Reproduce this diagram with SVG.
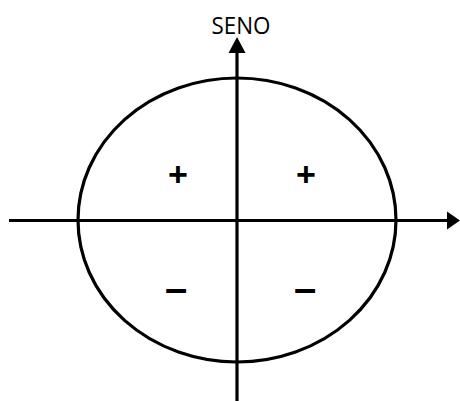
<svg xmlns="http://www.w3.org/2000/svg" width="460" height="401" viewBox="0 0 460 401">
<style>
.ln{stroke:#000;stroke-width:3.2;fill:none}
.sg{font-family:"Liberation Sans",Arial,sans-serif;font-weight:bold;text-anchor:middle;fill:#000}
</style>
<rect width="460" height="401" fill="#fff"/>
<g id="circle"><ellipse class="ln" cx="237" cy="220" rx="159" ry="142"/></g>
<g id="connectors">
<line class="ln" x1="9" y1="220.5" x2="450" y2="220.5"/>
<polygon points="447,211.5 460,220.5 447,229.5" fill="#000"/>
<line class="ln" x1="237" y1="50" x2="237" y2="401"/>
<polygon points="228.5,53 237,37 245.5,53" fill="#000"/>
</g>
<g id="label"><text x="241" y="34" font-family="'Open Sans','Liberation Sans',sans-serif" font-size="24" text-anchor="middle" textLength="59" lengthAdjust="spacingAndGlyphs">SENO</text></g>
<g id="q1"><text class="sg" x="306" y="186" font-size="34">+</text></g>
<g id="q2"><text class="sg" x="178" y="186" font-size="34">+</text></g>
<g id="q3"><text class="sg" x="176" y="302" font-size="40">–</text></g>
<g id="q4"><text class="sg" x="305" y="302" font-size="40">–</text></g>
</svg>
